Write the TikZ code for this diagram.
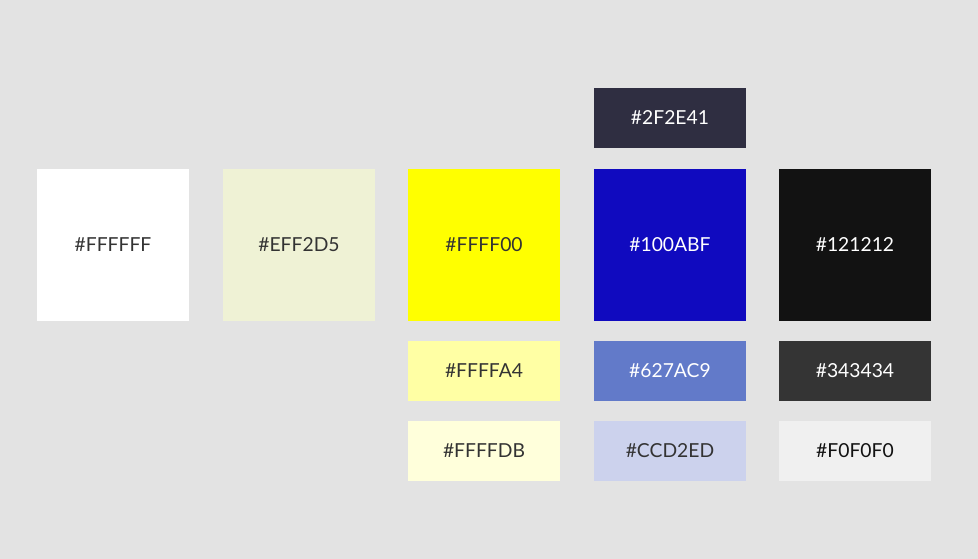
\documentclass[tikz,border=0pt]{standalone}
\usepackage{fontspec}
\setmainfont{Lato}
\definecolor{bgcol}{HTML}{E3E3E3}
\definecolor{txtdark}{HTML}{333333}
\definecolor{cFFFFFF}{HTML}{FFFFFF}
\definecolor{cEFF2D5}{HTML}{EFF2D5}
\definecolor{cFFFF00}{HTML}{FFFF00}
\definecolor{c100ABF}{HTML}{100ABF}
\definecolor{c121212}{HTML}{121212}
\definecolor{c2F2E41}{HTML}{2F2E41}
\definecolor{cFFFFA4}{HTML}{FFFFA4}
\definecolor{c627AC9}{HTML}{627AC9}
\definecolor{c343434}{HTML}{343434}
\definecolor{cFFFFDB}{HTML}{FFFFDB}
\definecolor{cCCD2ED}{HTML}{CCD2ED}
\definecolor{cF0F0F0}{HTML}{F0F0F0}
\tikzset{
  swatch/.style={inner sep=0pt, minimum width=152pt, minimum height=152pt, text=txtdark, font={\fontsize{19.3pt}{0pt}\selectfont}},
  strip/.style={swatch, minimum height=60pt},
  light/.style={text=white}
}
\begin{document}
\begin{tikzpicture}[x=1pt,y=-1pt, line join=round, line cap=round]
		% Hintergrund
		\fill[bgcol] (0,0) rectangle (978,559);
		\useasboundingbox (0,0) rectangle (978,559);
		% Hauptfarben
		\node[swatch, fill=cFFFFFF] (white) at (113,245) {\#FFFFFF};
		\node[swatch, fill=cEFF2D5] (cream) at (299,245) {\#EFF2D5};
		\node[swatch, fill=cFFFF00] (yellow) at (484,245) {\#FFFF00};
		\node[swatch, fill=c100ABF, light] (blue) at (670,245) {\#100ABF};
		\node[swatch, fill=c121212, light] (black) at (855,245) {\#121212};
		% Abstufungen
		\node[strip, fill=c2F2E41, light] (bluetop) at (670,118) {\#2F2E41};
		\node[strip, fill=cFFFFA4] (yellowmid) at (484,371) {\#FFFFA4};
		\node[strip, fill=cFFFFDB] (yellowlow) at (484,451) {\#FFFFDB};
		\node[strip, fill=c627AC9, light] (bluemid) at (670,371) {\#627AC9};
		\node[strip, fill=cCCD2ED] (bluelow) at (670,451) {\#CCD2ED};
		\node[strip, fill=c343434, light] (blackmid) at (855,371) {\#343434};
		\node[strip, fill=cF0F0F0, text=c121212] (blacklow) at (855,451) {\#F0F0F0};
\end{tikzpicture}
\end{document}
